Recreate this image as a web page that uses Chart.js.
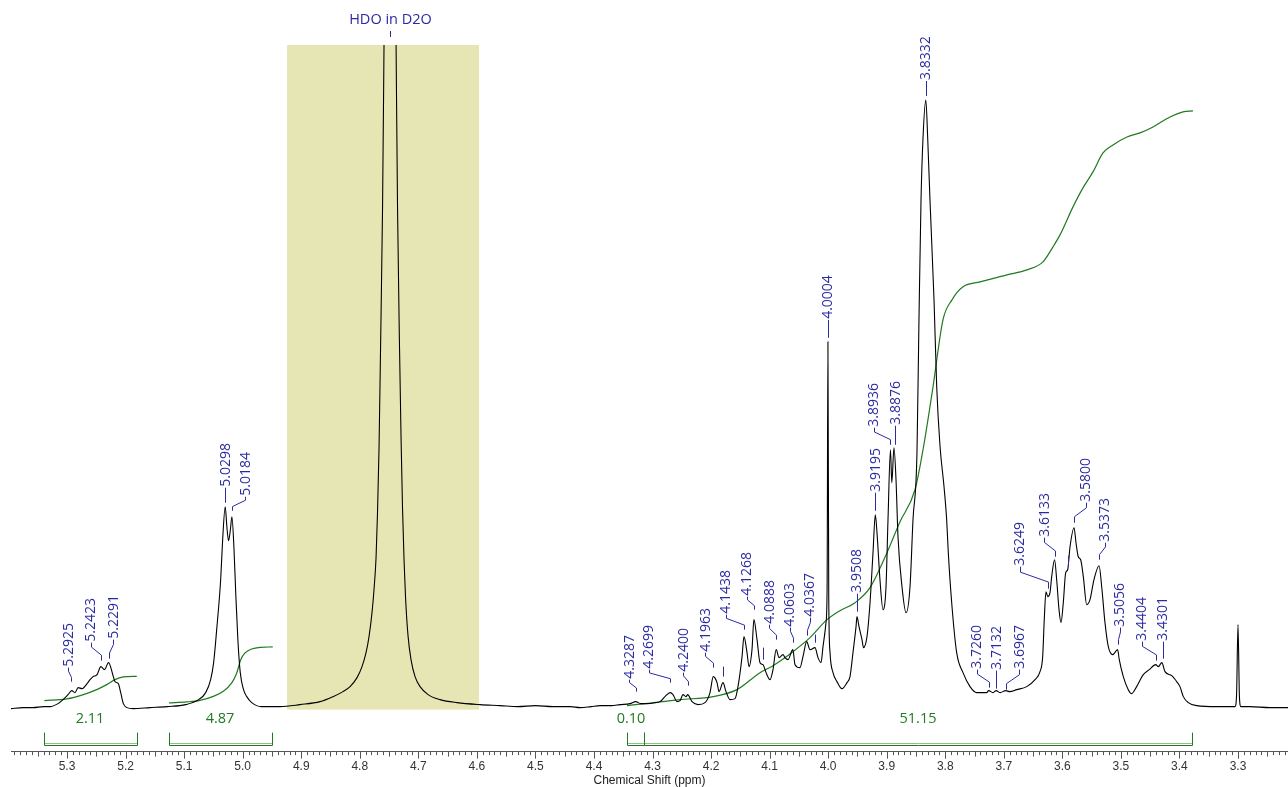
<!DOCTYPE html>
<html>
<head>
<meta charset="utf-8">
<script src="https://cdn.jsdelivr.net/npm/chart.js@4.4.1/dist/chart.umd.min.js"></script>
<style>
  html, body { margin: 0; padding: 0; background: #fff; }
  canvas { display: block; }
</style>
</head>
<body>
<canvas id="nmr-chart" width="1288" height="787"></canvas>
<script>
// spectrum trace: [shift ppm, intensity]
const spectrumPoints = [
  [5.3957, -1], [5.375, 0], [5.358, 0], [5.34, 1], [5.329, 1], [5.3154, 4], [5.3068, 8],
  [5.2983, 13], [5.292, 17], [5.2863, 15], [5.2812, 20], [5.2744, 19], [5.2658, 24],
  [5.2607, 28], [5.2556, 31], [5.2487, 33], [5.2423, 41], [5.236, 38], [5.2291, 45],
  [5.2209, 31], [5.218, 26], [5.2124, 24], [5.2083, 15], [5.2038, 4], [5.1975, 0],
  [5.1873, -1], [5.1583, 0], [5.1292, 1],
  [5.0974, 3], [5.0752, 8], [5.0632, 15], [5.0547, 28], [5.0496, 45], [5.0444, 78],
  [5.0376, 128], [5.0342, 168], [5.0298, 201], [5.027, 181], [5.0241, 167], [5.021, 178],
  [5.0184, 191], [5.015, 161], [5.0116, 111], [5.0082, 68], [5.0041, 35], [4.9985, 18],
  [4.993, 11], [4.9845, 5], [4.968, 1], [4.95, 1],
  [4.9362, 1], [4.902, 3], [4.8679, 6], [4.8457, 11], [4.8286, 16], [4.8166, 21],
  [4.8047, 30], [4.7962, 41], [4.7893, 55], [4.7842, 71], [4.7791, 95], [4.7757, 118],
  [4.7722, 150], [4.7697, 195], [4.7671, 260], [4.7645, 360], [4.7611, 500], [4.7586, 663],
  [4.7552, 900], [4.7483, 1400], [4.7415, 900], [4.738, 663], [4.7355, 500], [4.7321, 360],
  [4.7295, 270], [4.727, 200], [4.7244, 148], [4.7218, 110], [4.7176, 72], [4.7125, 48],
  [4.7056, 31], [4.697, 21], [4.6834, 13], [4.663, 8], [4.634, 5], [4.5946, 3], [4.5604, 2],
  [4.53, 1], [4.5, 2], [4.47, 1], [4.44, 1], [4.4238, 0], [4.405, 1], [4.3897, 2],
  [4.37, 2], [4.3555, 3], [4.3384, 4], [4.3287, 6], [4.32, 4], [4.3094, 4], [4.295, 5],
  [4.2872, 6], [4.2787, 11], [4.2699, 15], [4.265, 13], [4.2582, 6], [4.253, 7],
  [4.2479, 13], [4.2428, 11], [4.24, 13], [4.2325, 6], [4.2223, 3], [4.2103, 5],
  [4.2018, 15], [4.1963, 31], [4.1898, 25], [4.1864, 16], [4.1796, 25], [4.1745, 16],
  [4.1676, 8], [4.1591, 9], [4.154, 21], [4.1471, 51], [4.1438, 71], [4.1386, 55],
  [4.1352, 41], [4.1301, 58], [4.1268, 88], [4.1215, 68], [4.1164, 45], [4.1113, 43],
  [4.1061, 35], [4.0993, 28], [4.0942, 38], [4.0888, 58], [4.0839, 50], [4.0771, 53],
  [4.0737, 50], [4.0686, 48], [4.0603, 58], [4.0566, 43], [4.0481, 40], [4.043, 51],
  [4.0367, 66], [4.031, 58], [4.0225, 60], [4.0173, 50], [4.0122, 45], [4.0088, 61],
  [4.0037, 85], [4.0018, 120], [4.0004, 366], [3.999, 110], [3.9968, 55], [3.9917, 35],
  [3.9849, 26], [3.9764, 19], [3.9678, 25], [3.9627, 31], [3.9576, 55], [3.9524, 81],
  [3.9508, 91], [3.9473, 81], [3.9422, 68], [3.9396, 60], [3.9337, 71], [3.9285, 105],
  [3.9234, 155], [3.9195, 193], [3.9166, 175], [3.9115, 128], [3.9063, 98], [3.9012, 121],
  [3.8978, 188], [3.8936, 258], [3.8913, 225], [3.8876, 260], [3.8841, 228], [3.8807, 171],
  [3.8739, 121], [3.867, 95], [3.8602, 121], [3.8551, 188], [3.8483, 255], [3.8449, 388],
  [3.8414, 508], [3.838, 570], [3.8332, 608], [3.83, 570], [3.8261, 508], [3.8192, 408],
  [3.8146, 321], [3.809, 262], [3.8021, 221], [3.7976, 188], [3.7948, 155], [3.789, 105],
  [3.7805, 55], [3.7697, 35], [3.7577, 21], [3.7463, 15], [3.7292, 15], [3.726, 17],
  [3.7184, 15], [3.7132, 17], [3.7065, 15], [3.6967, 17], [3.69, 16], [3.678, 18],
  [3.6609, 21], [3.6467, 28], [3.6382, 36], [3.6336, 51], [3.6309, 88], [3.628, 116],
  [3.6249, 111], [3.6211, 115], [3.6182, 131], [3.6133, 148], [3.6097, 128], [3.6057, 98],
  [3.6023, 85], [3.5984, 105], [3.5943, 135], [3.5909, 138], [3.5869, 161], [3.58, 180],
  [3.5767, 165], [3.5728, 151], [3.5687, 148], [3.5642, 131], [3.5584, 103], [3.5528, 108],
  [3.546, 128], [3.5373, 142], [3.5328, 121], [3.5272, 85], [3.5215, 61], [3.514, 53],
  [3.5056, 58], [3.5028, 48], [3.4959, 31], [3.4874, 18], [3.4816, 14], [3.4731, 21],
  [3.4618, 33], [3.4515, 38], [3.4404, 43], [3.4361, 41], [3.4301, 45], [3.4247, 36],
  [3.4133, 32], [3.4047, 26], [3.3991, 21], [3.3934, 11], [3.3849, 5], [3.3705, 2],
  [3.3364, 1], [3.3051, 1], [3.3025, 12], [3.3, 83], [3.2975, 10], [3.295, 1],
  [3.2795, 1], [3.2454, 0], [3.2146, 0],
];

// integral curves (running sums), same units as the trace
const integralA = [
  [5.3387, 7], [5.3005, 8.7], [5.2721, 13], [5.2493, 18], [5.2322, 23], [5.218, 28],
  [5.2038, 30.7], [5.1867, 31.3], [5.1809, 31.3],
];
const integralB = [
  [5.1258, 4.7], [5.0955, 5.7], [5.0728, 7.3], [5.0501, 11.3], [5.033, 16.3], [5.0187, 24.7],
  [5.0101, 34.7], [5.0033, 48], [4.996, 54.7], [4.9845, 58.7], [4.9703, 60.3], [4.9487, 60.7],
];
const integralC = [
  [4.3436, 2], [4.3128, 4], [4.253, 8], [4.1967, 11], [4.1557, 18], [4.1164, 35],
  [4.0942, 42], [4.0601, 56], [4.031, 70], [4.002, 88], [3.9798, 97], [3.9541, 105],
  [3.9285, 120], [3.8995, 155], [3.8773, 186], [3.8517, 218], [3.838, 258], [3.8209, 321],
  [3.8039, 388], [3.7885, 408], [3.7697, 421], [3.7407, 426], [3.6946, 433], [3.6605, 438],
  [3.6331, 446], [3.616, 461], [3.604, 473], [3.5818, 501], [3.5648, 520], [3.5477, 536],
  [3.5306, 555], [3.5135, 563], [3.4896, 571], [3.4674, 575], [3.4452, 581], [3.4162, 591],
  [3.394, 596], [3.3769, 597],
];

// integral brackets: [from ppm, to ppm, label ppm, value]
const integralRanges = [
  [5.3393, 5.1804, 5.2607, "2.11"],
  [5.1258, 4.9499, 5.0387, "4.87"],
  [4.3436, 4.3145, 4.3367, "0.10"],
  [4.3145, 3.3786, 3.8466, "51.15"],
];

// peak labels: [text, label ppm, leader bottom, text bottom]
const peakLabels = [
  ["5.2925", 5.2983, 26, 40], ["5.2423", 5.2595, 47, 65], ["5.2291", 5.2214, 49, 68],
  ["5.0298", 5.0298, 205, 220], ["5.0184", 4.996, 197, 211],
  ["4.3287", 4.3401, 16, 28], ["4.2699", 4.306, 25, 38], ["4.2400", 4.2474, 22, 35],
  ["4.1963", 4.2103, 40, 55], ["4.1438", 4.175, 78, 93], ["4.1268", 4.1391, 98, 111],
  ["4.0888", 4.1005, 68, 83], ["4.0603", 4.0652, 65, 80], ["4.0367", 4.031, 72, 90],
  ["4.0004", 4.0004, 370, 388], ["3.9508", 3.9508, 96, 114], ["3.9195", 3.9195, 197, 215],
  ["3.8936", 3.9217, 263, 280], ["3.8876", 3.8858, 263, 282], ["3.8332", 3.8332, 612, 627],
  ["3.7260", 3.7463, 20, 38], ["3.7132", 3.7132, 19, 37], ["3.6967", 3.6735, 18, 38],
  ["3.6249", 3.6724, 119, 141], ["3.6133", 3.6313, 151, 170], ["3.5800", 3.5596, 185, 205],
  ["3.5373", 3.5272, 148, 165], ["3.5056", 3.502, 63, 80], ["3.4404", 3.4645, 47, 66],
  ["3.4301", 3.4287, 49, 66],
];
// peak marks with no text: [ppm, bottom, top]
const peakMarks = [[4.18, 31, 41], [4.1118, 48, 60], [4.0225, 65, 73], [3.59, 141, 152]];

const solventRegion = [4.9242, 4.5963]; // shaded HDO region
const solventLabel = ["HDO in D2O", 4.748];
const tickValues = [5.3, 5.2, 5.1, 5.0, 4.9, 4.8, 4.7, 4.6, 4.5, 4.4, 4.3, 4.2, 4.1, 4.0, 3.9, 3.8, 3.7, 3.6, 3.5, 3.4, 3.3];

const toXY = (arr) => arr.map(([x, y]) => ({ x: x, y: y }));

const blue = "#2b2ba0";
const green = "#217a21";

const decor = {
  id: "decor",
  beforeDatasetsDraw(chart) {
    const { ctx, scales: { x, y } } = chart;
    const x1 = x.getPixelForValue(solventRegion[0]);
    const x2 = x.getPixelForValue(solventRegion[1]);
    ctx.save();
    ctx.fillStyle = "#e6e6b4";
    ctx.fillRect(x1, y.getPixelForValue(663), x2 - x1, y.getPixelForValue(-2) - y.getPixelForValue(663));
    ctx.restore();
  },
  afterDatasetsDraw(chart) {
    const { ctx, chartArea, scales: { x, y } } = chart;
    ctx.save();

    // peak labels with leader lines
    ctx.strokeStyle = blue;
    ctx.fillStyle = blue;
    ctx.lineWidth = 1;
    ctx.font = "14px 'Open Sans'";
    peakLabels.forEach(([text, lx, lb, tb]) => {
      const px = x.getPixelForValue(parseFloat(text));
      const tx = x.getPixelForValue(lx);
      const yb = y.getPixelForValue(lb);
      const yt = y.getPixelForValue(tb);
      ctx.beginPath();
      if (Math.abs(px - tx) < 1.5) {
        ctx.moveTo(Math.round(tx) + 0.5, yb);
        ctx.lineTo(Math.round(tx) + 0.5, yt);
      } else {
        const h = yb - yt;
        ctx.moveTo(Math.round(px) + 0.5, yb);
        ctx.lineTo(Math.round(px) + 0.5, yb - h * 0.3);
        ctx.lineTo(Math.round(tx) + 0.5, yb - h * 0.75);
        ctx.lineTo(Math.round(tx) + 0.5, yt);
      }
      ctx.stroke();
      ctx.save();
      ctx.translate(tx + 0.5, yt - 1);
      ctx.rotate(-Math.PI / 2);
      ctx.textAlign = "left";
      ctx.textBaseline = "middle";
      ctx.fillText(text, 0, 0);
      ctx.restore();
    });
    peakMarks.forEach(([mx, b, t]) => {
      const px = Math.round(x.getPixelForValue(mx)) + 0.5;
      ctx.beginPath();
      ctx.moveTo(px, y.getPixelForValue(b));
      ctx.lineTo(px, y.getPixelForValue(t));
      ctx.stroke();
    });

    // solvent label
    const sx = Math.round(x.getPixelForValue(solventLabel[1])) + 0.5;
    ctx.textAlign = "center";
    ctx.textBaseline = "middle";
    ctx.font = "14.5px 'Open Sans'";
    ctx.fillText(solventLabel[0], sx, y.getPixelForValue(688));
    ctx.beginPath();
    ctx.moveTo(sx, y.getPixelForValue(677));
    ctx.lineTo(sx, y.getPixelForValue(671));
    ctx.stroke();

    // integral brackets
    const top = y.getPixelForValue(-25);
    const bot = Math.round(y.getPixelForValue(-37)) + 0.5;
    ctx.font = "14.5px 'Open Sans'";
    integralRanges.forEach(([a, b, lx, val]) => {
      const xa = Math.round(x.getPixelForValue(a)) + 0.5;
      const xb = Math.round(x.getPixelForValue(b)) + 0.5;
      ctx.strokeStyle = "#8fbf8f";
      ctx.beginPath();
      ctx.moveTo(xa, bot - 2);
      ctx.lineTo(xb, bot - 2);
      ctx.stroke();
      ctx.strokeStyle = green;
      ctx.beginPath();
      ctx.moveTo(xa, top);
      ctx.lineTo(xa, bot);
      ctx.lineTo(xb, bot);
      ctx.lineTo(xb, top);
      ctx.stroke();
      ctx.fillStyle = green;
      ctx.fillText(val, x.getPixelForValue(lx), y.getPixelForValue(-11));
    });

    // minor ticks on the shift axis
    ctx.strokeStyle = "#555";
    const y0 = chartArea.bottom;
    for (let i = Math.ceil(x.min * 100); i <= Math.floor(x.max * 100); i++) {
      const px = Math.round(x.getPixelForValue(i / 100)) + 0.5;
      const len = i % 10 === 0 ? 7 : i % 5 === 0 ? 5 : 3.5;
      ctx.beginPath();
      ctx.moveTo(px, y0);
      ctx.lineTo(px, y0 + len);
      ctx.stroke();
    }
    ctx.restore();
  },
};

new Chart(document.getElementById("nmr-chart"), {
  type: "line",
  data: {
    datasets: [
      {
        data: toXY(spectrumPoints),
        borderColor: "#000",
        borderWidth: 1.1,
        pointRadius: 0,
        cubicInterpolationMode: "monotone",
        clip: { left: 0, top: -45, right: 0, bottom: 0 },
      },
      { data: toXY(integralA), borderColor: green, borderWidth: 1.2, pointRadius: 0, cubicInterpolationMode: "monotone" },
      { data: toXY(integralB), borderColor: green, borderWidth: 1.2, pointRadius: 0, cubicInterpolationMode: "monotone" },
      { data: toXY(integralC), borderColor: green, borderWidth: 1.2, pointRadius: 0, cubicInterpolationMode: "monotone" },
    ],
  },
  options: {
    responsive: false,
    animation: false,
    layout: { padding: { left: 11, right: 0, top: 0, bottom: 0 } },
    plugins: { legend: { display: false }, tooltip: { enabled: false } },
    scales: {
      x: {
        type: "linear",
        reverse: true,
        min: 3.2146,
        max: 5.3957,
        afterBuildTicks: (axis) => {
          axis.ticks = tickValues.map((v) => ({ value: v }));
        },
        ticks: {
          autoSkip: false,
          maxRotation: 0,
          padding: 1,
          color: "#333",
          font: { family: "'Liberation Sans', Arial", size: 12 },
          callback: (v) => Number(v).toFixed(1),
        },
        grid: { drawOnChartArea: false, drawTicks: true, tickLength: 7, color: "transparent" },
        border: { display: true, color: "#555" },
        title: {
          display: true,
          text: "Chemical Shift (ppm)",
          color: "#222",
          font: { family: "'Liberation Sans', Arial", size: 12, lineHeight: 1 },
          padding: { top: 0, bottom: 0 },
        },
      },
      y: { display: false, min: -44, max: 708 },
    },
  },
  plugins: [decor],
});
</script>
</body>
</html>
